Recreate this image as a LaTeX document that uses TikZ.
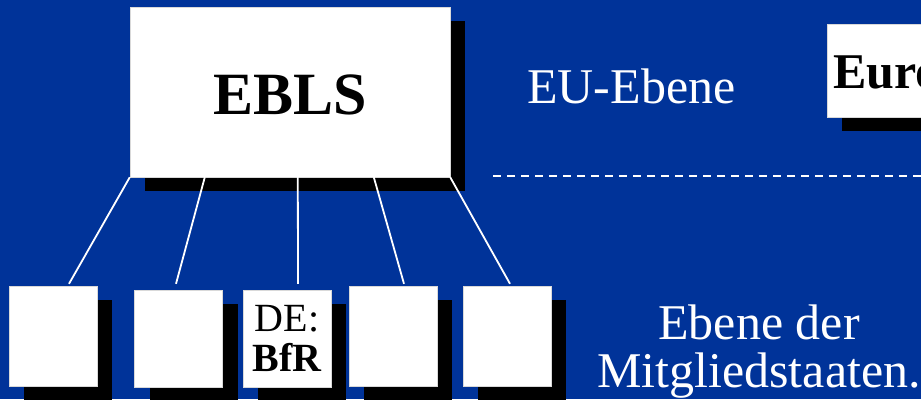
\documentclass[tikz,border=0pt]{standalone}
\usepackage{fontspec}
\setmainfont{Liberation Serif}
\usetikzlibrary{
shadows,
positioning
}
\definecolor{eublue}{RGB}{0,51,153}

\begin{document}
\begin{tikzpicture}[
    x=1pt, y=-1pt,
    box/.style={
      draw=black!15,
      line width=0.4pt,
      fill=white,
      rectangle,
      inner sep=0pt,
      drop shadow={shadow xshift=15pt, shadow yshift=-14pt, opacity=1, fill=black}
    },
    member/.style={
      box,
      minimum width=88pt,
      minimum height=100pt
    },
    link/.style={
      draw=white,
      line width=1.8pt
    },
    level/.style={
      text=white,
      inner sep=0pt,
      font=\fontsize{50}{48}\selectfont
    }
  ]
  \fill[eublue] (0,0) rectangle (921,399);
  \useasboundingbox (0,0) rectangle (921,399);
  % EU level
  \node[box,minimum width=320pt,minimum height=170pt,text height=45pt,text depth=0pt,
    font=\fontsize{60}{60}\selectfont\bfseries] (ebls) at (290,92) {EBLS};
  \node[box,anchor=north west,minimum width=300pt,minimum height=93pt,text width=288pt,
    text height=36pt,text depth=0pt,
    inner xsep=6pt,align=left,font=\fontsize{50}{50}\selectfont\bfseries] (euro) at (827,24) {Euro};
  \node[level,anchor=base west] (eu) at (527,103) {EU-Ebene};
  \coordinate (d1) at (493,176);
  \coordinate (d2) at (921,176);
  \draw[white,line width=2pt,dash pattern=on 7.5pt off 6.5pt] (d1) -- (d2);
  % member states
  \node[member] (m1) at (53,336) {};
  \node[member,minimum height=97pt] (m2) at (178.5,338.5) {};
  \node[member,minimum height=97pt,align=center,font=\fontsize{40}{40}\selectfont] (m3) at (287,338.5) {DE:\\\textbf{BfR}};
  \node[member] (m4) at (393,336) {};
  \node[member] (m5) at (507,336) {};
  \node[level,anchor=south,align=center] (ms) at (759,398) {Ebene der\\Mitgliedstaaten.};
  % links
  \coordinate[xshift=75pt] (e2) at(ebls.south west);
  \coordinate[xshift=168pt] (e3) at(ebls.south west);
  \coordinate[xshift=244pt] (e4) at(ebls.south west);
  \coordinate[xshift=16pt,yshift=2pt] (t1) at(m1.north);
  \coordinate[xshift=-2.5pt,yshift=6pt] (t2) at(m2.north);
  \coordinate[xshift=11pt,yshift=6pt] (t3) at(m3.north);
  \coordinate[xshift=11pt,yshift=2pt] (t4) at(m4.north);
  \coordinate[xshift=3pt,yshift=2pt] (t5) at(m5.north);
  \draw[link] (ebls.south west) -- (t1);
  \draw[link] (e2) -- (t2);
  \draw[link] (e3) -- (t3);
  \draw[link] (e4) -- (t4);
  \draw[link] (ebls.south east) -- (t5);
\end{tikzpicture}
\end{document}
